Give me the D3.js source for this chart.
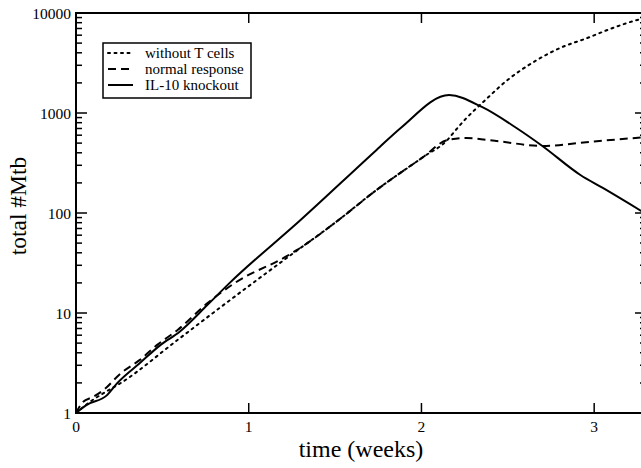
<!DOCTYPE html>
<html>
<head>
<meta charset="utf-8">
<script src="https://cdn.jsdelivr.net/npm/d3@7"></script>
<style>
  body { margin: 0; background: #fff; }
</style>
</head>
<body>
<svg></svg>
<script>
const width = 641
const height = 468
const margin = { left: 76, right: -5, top: 13, bottom: 55 }
const serif = "'Liberation Serif', 'Times New Roman', serif"

// time in weeks, total #Mtb
const withoutT = [
  [0, 1], [0.08, 1.29], [0.17, 1.62], [0.26, 2.0], [0.58, 5.25], [0.9, 13.8],
  [1.22, 35.5], [1.5, 80], [1.74, 170], [2.01, 363], [2.15, 537], [2.2, 680],
  [2.25, 851], [2.31, 1080], [2.37, 1350], [2.5, 2150], [2.65, 3240],
  [2.8, 4450], [2.96, 5620], [3.1, 7000], [3.25, 8510], [3.3, 8900],
]
const normal = [
  [0, 1], [0.04, 1.29], [0.1, 1.45], [0.16, 1.7], [0.26, 2.5], [0.37, 3.4],
  [0.47, 4.8], [0.59, 6.8], [0.76, 12.5], [0.92, 20], [1.22, 37], [1.28, 42.7],
  [1.5, 80], [1.74, 170], [2.01, 363], [2.15, 537], [2.26, 562], [2.45, 520],
  [2.7, 468], [3.0, 520], [3.3, 575],
]
const knockout = [
  [0, 1], [0.06, 1.2], [0.18, 1.51], [0.24, 2.0], [0.37, 3.16], [0.49, 4.8],
  [0.6, 6.5], [0.76, 12], [0.89, 20], [1.3, 85], [1.74, 427], [1.88, 708],
  [2.16, 1510], [2.35, 1150], [2.55, 708], [2.7, 468], [2.92, 240], [3.05, 178],
  [3.3, 98],
]
const xTicks = [0, 1, 2, 3]
const yTicks = [1, 10, 100, 1000, 10000]

const series = [
  { name: 'without T cells', data: withoutT, dash: '2,4.5', cap: 'round' },
  { name: 'normal response', data: normal, dash: '8,5', cap: 'butt' },
  { name: 'IL-10 knockout', data: knockout, dash: null, cap: 'butt' },
]

const svg = d3.select('svg').attr('width', width).attr('height', height)

const x = d3.scaleLinear().domain([0, 3.3]).range([margin.left, width - margin.right])
const y = d3.scaleLog().domain([1, 10000]).range([height - margin.bottom, margin.top])

const minorY = []
for (let d = 1; d < 10000; d *= 10) {
  for (let k = 2; k <= 9; k++) minorY.push(d * k)
}

const x0 = x.range()[0], x1 = x.range()[1]
const y0 = y.range()[0], y1 = y.range()[1]

// ticks, inward on all four sides
const ticks = svg.append('g').attr('stroke', '#000').attr('stroke-width', 1.5)
xTicks.forEach((t) => {
  ticks.append('line').attr('x1', x(t)).attr('x2', x(t)).attr('y1', y0).attr('y2', y0 - 10)
  ticks.append('line').attr('x1', x(t)).attr('x2', x(t)).attr('y1', y1).attr('y2', y1 + 10)
})
yTicks.forEach((t) => {
  ticks.append('line').attr('x1', x0).attr('x2', x0 + 11).attr('y1', y(t)).attr('y2', y(t))
  ticks.append('line').attr('x1', x1).attr('x2', x1 - 11).attr('y1', y(t)).attr('y2', y(t))
})
minorY.forEach((t) => {
  ticks.append('line').attr('x1', x0).attr('x2', x0 + 6).attr('y1', y(t)).attr('y2', y(t))
  ticks.append('line').attr('x1', x1).attr('x2', x1 - 6).attr('y1', y(t)).attr('y2', y(t))
})

svg.append('rect')
  .attr('x', x0).attr('y', y1)
  .attr('width', x1 - x0).attr('height', y0 - y1)
  .attr('fill', 'none').attr('stroke', '#000').attr('stroke-width', 2)

// tick labels
svg.append('g').selectAll('text').data(xTicks).join('text')
  .attr('x', (d) => x(d)).attr('y', y0 + 19)
  .attr('text-anchor', 'middle').attr('font-size', 15.5)
  .style('font-family', serif)
  .text((d) => d)
svg.append('g').selectAll('text').data(yTicks).join('text')
  .attr('x', x0 - 5).attr('y', (d) => y(d) + 5.5)
  .attr('text-anchor', 'end').attr('font-size', 15.5)
  .style('font-family', serif)
  .text((d) => d)

// axis titles
svg.append('text')
  .attr('x', (x0 + x1) / 2).attr('y', 457)
  .attr('text-anchor', 'middle').attr('font-size', 24)
  .style('font-family', serif)
  .text('time (weeks)')
svg.append('text')
  .attr('transform', 'translate(26,206) rotate(-90)')
  .attr('text-anchor', 'middle').attr('font-size', 23.5)
  .style('font-family', serif)
  .text('total #Mtb')

// curves
const line = d3.line()
  .x((d) => x(d[0]))
  .y((d) => y(d[1]))
  .curve(d3.curveMonotoneX)

svg.append('defs').append('clipPath').attr('id', 'plot-clip')
  .append('rect').attr('x', x0).attr('y', y1).attr('width', x1 - x0).attr('height', y0 - y1)

svg.append('g').attr('clip-path', 'url(#plot-clip)')
  .selectAll('path').data(series).join('path')
  .attr('d', (s) => line(s.data))
  .attr('fill', 'none')
  .attr('stroke', '#000')
  .attr('stroke-width', 2)
  .attr('stroke-linecap', (s) => s.cap)
  .attr('stroke-dasharray', (s) => s.dash)

// legend
const legend = svg.append('g').attr('transform', 'translate(103,43)')
legend.append('rect')
  .attr('width', 148).attr('height', 55)
  .attr('fill', '#fff').attr('stroke', '#000').attr('stroke-width', 1.5)
series.forEach((s, i) => {
  const ly = 10 + i * 16
  legend.append('line')
    .attr('x1', 5).attr('x2', 30).attr('y1', ly).attr('y2', ly)
    .attr('stroke', '#000').attr('stroke-width', 2)
    .attr('stroke-linecap', s.cap)
    .attr('stroke-dasharray', s.dash)
  legend.append('text')
    .attr('x', 42).attr('y', ly + 5)
    .attr('font-size', 15)
    .style('font-family', serif)
    .text(s.name)
})
</script>
</body>
</html>
